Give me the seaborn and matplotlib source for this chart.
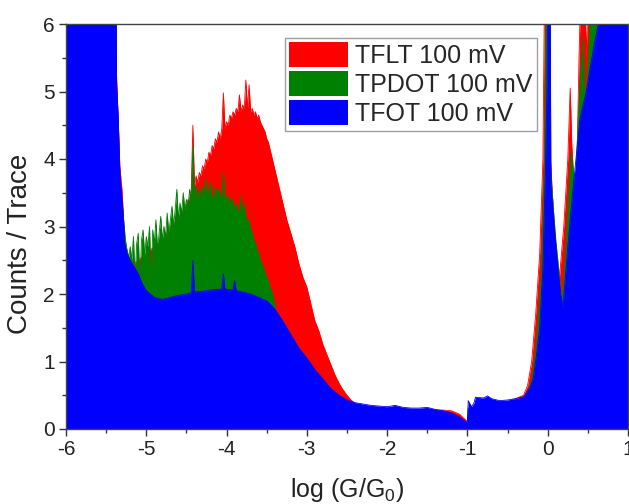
import numpy as np
import pandas as pd
import matplotlib
matplotlib.use("Agg")
import matplotlib.pyplot as plt
import seaborn as sns

# ---------------- data ----------------
tfot_x = [-6.0, -5.38, -5.37, -5.35, -5.33, -5.31, -5.29, -5.27, -5.24, -5.2, -5.15,
          -5.1, -5.05, -5.0, -4.9, -4.8, -4.7, -4.6, -4.5, -4.44, -4.42, -4.4, -4.3,
          -4.2, -4.1, -4.06, -4.04, -4.02, -4.0, -3.92, -3.9, -3.88, -3.8, -3.7, -3.6,
          -3.5, -3.4, -3.3, -3.2, -3.1, -3.0, -2.9, -2.8, -2.7, -2.6, -2.5, -2.4, -2.3,
          -2.2, -2.1, -2.0, -1.9, -1.8, -1.7, -1.6, -1.5, -1.4, -1.3, -1.2, -1.1,
          -1.02, -1.0, -0.99, -0.95, -0.92, -0.9, -0.8, -0.75, -0.7, -0.6, -0.5, -0.4,
          -0.3, -0.22, -0.18, -0.14, -0.1, -0.06, -0.03, -0.01, 0.0, 0.03, 0.04,
          0.08, 0.12, 0.16, 0.19, 0.25, 0.31, 0.36, 0.40, 0.44, 0.48, 0.52, 0.58,
          0.63, 0.65, 1.0]
tfot_y = [6.5, 6.5, 5.1, 4.6, 3.8, 3.5, 3.2, 2.75, 2.6, 2.5, 2.4,
          2.3, 2.15, 2.05, 1.95, 1.92, 1.95, 1.98, 2.0, 2.02, 2.5, 2.03, 2.04,
          2.06, 2.07, 2.07, 2.3, 2.07, 2.07, 2.06, 2.2, 2.05, 2.03, 2.0, 1.95,
          1.9, 1.78, 1.6, 1.4, 1.2, 1.05, 0.88, 0.74, 0.6, 0.5, 0.43, 0.39, 0.37,
          0.35, 0.34, 0.33, 0.35, 0.32, 0.31, 0.31, 0.32, 0.29, 0.27, 0.24, 0.18,
          0.11, 0.1, 0.42, 0.33, 0.38, 0.47, 0.46, 0.49, 0.45, 0.42, 0.43, 0.45,
          0.48, 0.62, 0.75, 1.1, 1.5, 2.4, 3.8, 5.0, 6.5, 6.5, 3.6,
          3.0, 2.45, 2.0, 1.8, 2.7, 3.5, 4.1, 4.58, 4.8, 5.0, 5.3, 5.7,
          6.0, 6.5, 6.5]

tpdot_x = [-6.0, -5.38, -5.37, -5.33, -5.29, -5.26,
           -5.24, -5.22, -5.20, -5.18, -5.16, -5.14, -5.12, -5.10, -5.08, -5.06,
           -5.04, -5.02, -5.00, -4.98, -4.96, -4.94, -4.92, -4.90, -4.88, -4.86,
           -4.84, -4.82, -4.80, -4.78, -4.76, -4.74, -4.72, -4.70, -4.68, -4.66,
           -4.64, -4.62, -4.60, -4.58, -4.56, -4.54, -4.52, -4.50, -4.48, -4.46,
           -4.44, -4.42, -4.40, -4.38, -4.36, -4.34, -4.32, -4.30, -4.28, -4.26,
           -4.24, -4.22, -4.20, -4.18, -4.16, -4.14, -4.12, -4.10, -4.08, -4.06,
           -4.04, -4.02, -4.00, -3.98, -3.96, -3.94, -3.92, -3.90, -3.88, -3.86,
           -3.84, -3.82, -3.80, -3.78, -3.76, -3.74, -3.72, -3.70, -3.68, -3.66,
           -3.64, -3.62, -3.60, -3.58, -3.56, -3.54, -3.52, -3.50, -3.48, -3.46,
           -3.44, -3.42, -3.40, -3.38, -3.3, -3.2, -3.0, -2.8, -2.6, -2.4, -2.0,
           -1.1, -1.0, -0.99, -0.3, -0.2, -0.14, -0.08, -0.04, -0.02, 0.025,
           0.03, 0.10, 0.18, 0.22, 0.26, 0.29, 0.32, 0.35, 0.38, 0.41, 0.44,
           0.47, 0.50, 0.54, 1.0]
tpdot_y = [6.5, 6.5, 4.6, 3.6, 3.2, 2.8,
           2.65, 2.55, 2.70, 2.50, 2.85, 2.20, 2.75, 2.90, 2.10, 2.80,
           2.95, 2.55, 2.85, 2.70, 3.00, 2.15, 2.95, 2.75, 3.10, 2.65,
           2.90, 3.15, 2.80, 3.00, 2.85, 3.20, 2.90, 3.10, 3.30, 3.00,
           3.25, 3.55, 3.10, 3.35, 3.20, 3.50, 3.25, 3.40, 3.30, 3.55,
           3.35, 4.20, 3.40, 3.60, 3.45, 3.55, 3.40, 3.60, 3.50, 3.70,
           3.45, 3.55, 3.65, 3.40, 3.45, 3.60, 3.50, 3.55, 3.40, 3.50,
           3.80, 3.40, 3.45, 3.35, 3.45, 3.30, 3.40, 3.25, 3.35, 3.20,
           3.25, 3.45, 3.20, 3.35, 3.15, 3.05, 3.10, 2.95, 2.90, 2.80,
           2.75, 2.65, 2.60, 2.50, 2.45, 2.40, 2.30, 2.25, 2.20, 2.10,
           2.05, 1.95, 1.85, 1.70, 1.45, 1.25, 0.95, 0.65, 0.42, 0.30, 0.25,
           0.10, 0.05, 0.30, 0.40, 0.72, 1.3, 2.3, 4.0, 6.5, 6.5,
           3.9, 2.8, 1.87, 2.6, 3.5, 4.1, 3.8, 3.7, 4.6, 5.3, 5.8,
           4.68, 5.4, 6.5, 6.5]

tflt_x = [-6.0, -5.38, -5.37, -5.35, -5.33, -5.30, -5.27, -5.25, -5.2, -4.8,
          -4.50, -4.48, -4.46, -4.44, -4.42, -4.40, -4.38, -4.36, -4.34, -4.32,
          -4.30, -4.28, -4.26, -4.24, -4.22, -4.20, -4.18, -4.16, -4.14, -4.12,
          -4.10, -4.08, -4.06, -4.04, -4.02, -4.00, -3.98, -3.96, -3.94, -3.92,
          -3.90, -3.88, -3.86, -3.84, -3.82, -3.80, -3.78, -3.76, -3.74, -3.72,
          -3.70, -3.68, -3.66, -3.64, -3.62, -3.60, -3.58, -3.56, -3.54, -3.52,
          -3.50, -3.48, -3.46, -3.44, -3.42, -3.40, -3.38, -3.36, -3.34, -3.32,
          -3.30, -3.25, -3.2, -3.15, -3.1, -3.05, -3.0, -2.95, -2.9, -2.85, -2.8,
          -2.75, -2.7, -2.65, -2.6, -2.55, -2.5, -2.45, -2.4, -2.3, -2.0, -1.3,
          -1.2, -1.1, -1.01, -1.0, -0.99, -0.5, -0.3, -0.25, -0.2, -0.15, -0.1,
          -0.06, -0.04, 0.02, 0.025, 0.08, 0.14, 0.2, 0.25, 0.28, 0.30, 0.33,
          0.35, 0.37, 0.39, 0.41, 0.46, 0.48, 0.50, 1.0]
tflt_y = [6.5, 6.5, 5.2, 4.6, 3.9, 3.5, 2.8, 2.7, 2.4, 2.8,
          3.30, 3.40, 3.35, 3.55, 4.50, 3.60, 3.75, 3.65, 3.80, 3.75,
          3.90, 3.85, 4.00, 3.95, 4.10, 4.05, 4.20, 4.15, 4.30, 4.25,
          4.40, 4.30, 4.45, 4.98, 4.45, 4.55, 4.50, 4.65, 4.60, 4.70,
          4.65, 4.75, 4.70, 4.95, 4.70, 4.80, 4.75, 5.17, 4.75, 5.10,
          4.70, 4.75, 4.65, 4.70, 4.60, 4.65, 4.55, 4.50, 4.45, 4.40,
          4.30, 4.25, 4.15, 4.05, 3.95, 3.85, 3.75, 3.65, 3.55, 3.45,
          3.35, 3.10, 2.90, 2.70, 2.45, 2.25, 2.10, 1.85, 1.60, 1.45, 1.25,
          1.10, 0.95, 0.80, 0.68, 0.58, 0.50, 0.43, 0.38, 0.34, 0.30, 0.28,
          0.27, 0.22, 0.12, 0.1, 0.3, 0.4, 0.5, 0.65, 1.0, 1.7, 2.6,
          4.0, 6.5, 6.5, 4.2, 3.0, 2.16, 3.0, 4.0, 5.05, 4.2, 3.6,
          3.29, 4.3, 5.5, 6.5, 6.5, 5.5, 6.5, 6.5]

series_names = ["TFLT 100 mV", "TPDOT 100 mV", "TFOT 100 mV"]
series_colors = ["#FF0000", "#008000", "#0000FF"]

x_ticks = [-6, -5, -4, -3, -2, -1, 0, 1]
y_ticks = [0, 1, 2, 3, 4, 5, 6]

# ---------------- plot ----------------
sns.set_theme(style="ticks")
plt.rcParams["font.family"] = ["Liberation Sans", "DejaVu Sans"]
plt.rcParams["axes.unicode_minus"] = False
plt.rcParams["mathtext.default"] = "regular"

fig = plt.figure(figsize=(6.29, 5.04), dpi=100)
ax = fig.add_axes([66 / 629, 1 - 429 / 504, (628 - 66) / 629, (429 - 24) / 504])

frames = [
    pd.DataFrame({"x": tflt_x, "y": tflt_y}),
    pd.DataFrame({"x": tpdot_x, "y": tpdot_y}),
    pd.DataFrame({"x": tfot_x, "y": tfot_y}),
]
for i, (df, name, col) in enumerate(zip(frames, series_names, series_colors)):
    ax.fill_between(df["x"], 0, df["y"], color=col, linewidth=0, label=name,
                    zorder=1 + 2 * i)
    sns.lineplot(data=df, x="x", y="y", ax=ax, color=col, linewidth=0.6,
                 legend=False, sort=False, zorder=2 + 2 * i)

ax.set_xlim(-6, 1)
ax.set_ylim(0, 6)
ax.set_xticks(x_ticks)
ax.set_xticklabels([str(v) for v in x_ticks])
ax.set_yticks(y_ticks)
ax.set_yticklabels([str(v) for v in y_ticks])
ax.set_xticks([v + 0.5 for v in x_ticks[:-1]], minor=True)
ax.set_yticks([v + 0.5 for v in y_ticks[:-1]], minor=True)
ax.tick_params(axis="both", which="major", direction="out", length=5, width=1,
               labelsize=15, colors="#333333", labelcolor="#222222", pad=3)
ax.tick_params(axis="both", which="minor", direction="out", length=3, width=1,
               colors="#333333")

for side in ["left", "bottom", "top", "right"]:
    ax.spines[side].set_visible(True)
    ax.spines[side].set_color("#444444")
    ax.spines[side].set_linewidth(1.0)
    ax.spines[side].set_zorder(10)

ax.set_xlabel("log (G/G$_0$)", fontsize=18, color="#222222", labelpad=12)
ax.set_ylabel("Counts / Trace", fontsize=20, color="#222222", labelpad=6)
ax.yaxis.set_label_coords(-0.058, 0.457)

handles, labels = ax.get_legend_handles_labels()
leg = ax.legend(handles, labels, loc="upper right",
                bbox_to_anchor=((537 - 66) / 562, 1 - (38 - 24) / 405),
                borderaxespad=0, fontsize=18, frameon=True, fancybox=False,
                handlelength=2.36, handleheight=1.16, labelspacing=0.12,
                handletextpad=0.28, borderpad=0.18)
leg.get_frame().set_edgecolor("#888888")
leg.get_frame().set_linewidth(1.0)
leg.set_zorder(20)

fig.savefig("out.png", dpi=100)
